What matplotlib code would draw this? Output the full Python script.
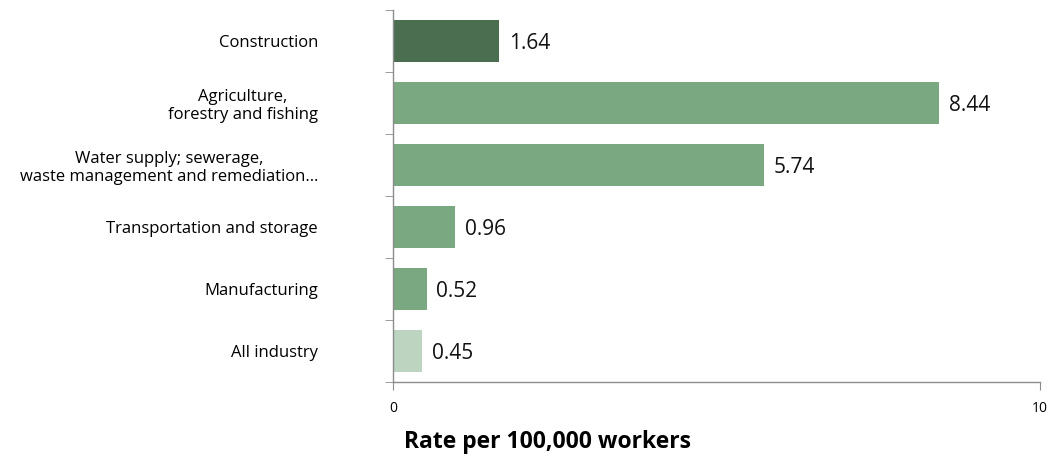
import matplotlib
matplotlib.use('Agg')
import matplotlib.pyplot as plt
import numpy as np

plt.rcParams.update({
    'font.family': ['Open Sans', 'DejaVu Sans'],
    'axes.linewidth': 1.0,
    'axes.edgecolor': '#8c8c8c',
})

# ── Data ──
categories = ['Construction', 'Agriculture,\nforestry and fishing',
              'Water supply; sewerage,\nwaste management and remediation…',
              'Transportation and storage', 'Manufacturing', 'All industry']
rates = [1.64, 8.44, 5.74, 0.96, 0.52, 0.45]
bar_colors = ['#4b6e50', '#7aa880', '#7aa880', '#7aa880', '#7aa880', '#bdd5c0']

fig = plt.figure(figsize=(10.5, 4.54), dpi=100)
ax = fig.add_axes([393/1050, 1 - 382/454, 647/1050, 372/454])

y = np.arange(len(categories))
ax.barh(y, rates, height=0.68, color=bar_colors)

for yi, v in zip(y, rates):
    ax.annotate(f'{v:.2f}', xy=(v, yi), xytext=(7, 0), textcoords='offset points',
                va='center_baseline', ha='left', fontsize=15, color='#111111')

ax.set_ylim(len(categories) - 0.5, -0.5)
ax.set_xlim(0, 10)

ax.set_yticks(y)
ax.set_yticklabels(categories, fontsize=12, multialignment='center')
ax.tick_params(axis='y', which='major', length=0, pad=54)
ax.set_yticks(np.arange(-0.5, len(categories)), minor=True)
ax.tick_params(axis='y', which='minor', length=6, color='#8c8c8c')

ax.set_xticks([0, 10])
ax.tick_params(axis='x', length=6, color='#8c8c8c', labelsize=10, pad=8)

for s in ['top', 'right']:
    ax.spines[s].set_visible(False)

ax.set_xlabel('Rate per 100,000 workers', fontsize=16.5, fontweight='bold')
ax.xaxis.set_label_coords((548 - 393) / 647, -0.13)

plt.savefig('out.png', dpi=100)
